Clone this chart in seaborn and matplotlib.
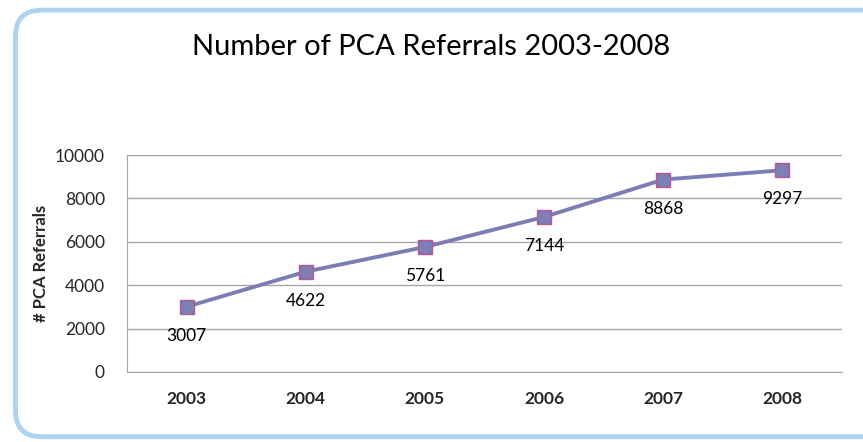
import matplotlib
matplotlib.use("Agg")
import matplotlib.pyplot as plt
import seaborn as sns
import pandas as pd
from matplotlib.patches import FancyBboxPatch

years = ["2003", "2004", "2005", "2006", "2007", "2008"]
referrals = [3007, 4622, 5761, 7144, 8868, 9297]

df = pd.DataFrame({"year": years, "referrals": referrals})

sns.set_style("white")
plt.rcParams["font.family"] = ["Lato", "DejaVu Sans"]

fig = plt.figure(figsize=(8.63, 4.42), dpi=100)

# rounded light-blue frame around the chart
frame = FancyBboxPatch((0.018, 0.012), 1.05, 0.965, boxstyle="round,pad=0,rounding_size=0.03",
                       transform=fig.transFigure, facecolor="none",
                       edgecolor="#acd3f1", linewidth=3.5, mutation_aspect=1.95, zorder=-1)
fig.patches.append(frame)

ax = fig.add_axes([127 / 863, 1 - 372 / 442, 715 / 863, 217 / 442])
ax.set_facecolor("none")

sns.lineplot(data=df, x="year", y="referrals", ax=ax, color="#7d7db5", linewidth=2.8,
             marker="s", markersize=10, markerfacecolor="#5f7fc0",
             markeredgecolor="#c8528e", markeredgewidth=1.0, sort=False)
ax.plot(range(len(years)), referrals, "o", color="#7f7fb5", markersize=8.5, zorder=5)

for i, v in enumerate(referrals):
    ax.annotate(str(v), (i, v), xytext=(0, -21), textcoords="offset points",
                ha="center", va="center", fontsize=12.5, color="black")

ax.set_xlim(-0.5, len(years) - 0.5)
ax.set_ylim(0, 10000)
ax.set_yticks(range(0, 10001, 2000))
ax.yaxis.grid(True, color="#a6a6a6", linewidth=1)
ax.set_axisbelow(True)
for s in ["top", "right"]:
    ax.spines[s].set_visible(False)
ax.spines["left"].set_color("#a6a6a6")
ax.spines["bottom"].set_color("#a6a6a6")
ax.tick_params(axis="y", labelsize=12.5, pad=16, length=0)
ax.tick_params(axis="x", labelsize=12.5, pad=14, length=0)
for lbl in ax.get_xticklabels():
    lbl.set_fontweight("bold")
ax.set_xlabel("")
ax.set_ylabel("# PCA Referrals", fontsize=12, fontweight="bold", labelpad=4)

fig.text(0.5, 1 - 47 / 442, "Number of PCA Referrals 2003-2008", ha="center", va="center",
         fontsize=21, color="black")

fig.savefig("out.png", dpi=100)
